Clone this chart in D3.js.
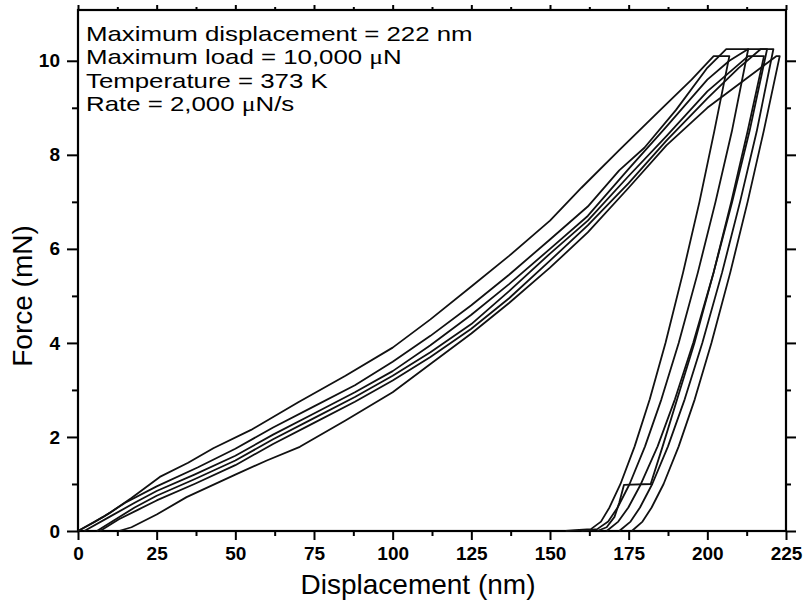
<!DOCTYPE html>
<html>
<head>
<meta charset="utf-8">
<script src="https://cdn.jsdelivr.net/npm/d3@7"></script>
<style>
  body { margin: 0; background: #fff; }
  svg { display: block; font-family: "Liberation Sans", Arial, sans-serif; }
</style>
</head>
<body>
<div id="chart"></div>
<script>
// load-displacement curves, [displacement nm, force mN]
const curve1 = [[0,0],[5,0.18],[10,0.38],[17,0.7],[26,1.15],[35,1.45],[43,1.76],[55,2.15],[70,2.74],[85,3.3],[100,3.9],[112,4.5],[125,5.2],[137,5.85],[150,6.6],[160,7.3],[172,8.1],[185,8.95],[195,9.6],[202,10.1],[207,10.1],
  [202.2,8.5],[197.5,7.0],[192.3,5.5],[186.7,4.0],[181.7,2.8],[176.9,1.8],[172.4,1.0],[168.9,0.5],[166.2,0.2],[163,0.04],[158,0.02],[155,0]];
const curve2 = [[0,0],[8,0.3],[15,0.6],[25,0.95],[38,1.35],[50,1.75],[62,2.2],[75,2.65],[88,3.1],[100,3.6],[112,4.15],[125,4.8],[137,5.45],[150,6.2],[162,6.9],[172,7.67],[180,8.15],[190,8.95],[200,9.85],[206,10.25],[213,10.25],
  [207.8,8.5],[202.6,7.0],[197,5.5],[190.9,4.0],[185.4,2.8],[180.2,1.8],[175.3,1.0],[171.5,0.5],[168.5,0.2],[165,0.04],[160,0]];
const curve3 = [[2,0],[10,0.3],[18,0.6],[25,0.85],[37,1.2],[50,1.6],[62,2.05],[75,2.5],[88,2.95],[100,3.4],[112,3.95],[125,4.6],[137,5.25],[150,6.0],[162,6.7],[175,7.7],[187,8.6],[200,9.6],[207,10.0],[213,10.25],[219,10.25],
  [213.4,8.5],[207.9,7.0],[202,5.5],[195.5,4.0],[189.7,2.8],[184.2,1.8],[178.9,1.0],[174.9,0.5],[171.7,0.2],[168,0]];
const curve4 = [[6,0],[12,0.25],[18,0.5],[25,0.75],[37,1.1],[50,1.5],[62,1.95],[75,2.4],[88,2.85],[100,3.3],[112,3.8],[125,4.4],[137,5.1],[150,5.9],[162,6.6],[175,7.55],[187,8.4],[200,9.35],[213,10.1],[218,10.1],
  [212.8,8.5],[207.6,7.0],[202,5.5],[195.9,4.0],[190.4,2.8],[185.8,1.8],[182,1.0],[173.5,0.98],[172,0.6],[170.5,0.3],[168,0.08],[165,0]];
const curve5 = [[7,0],[13,0.25],[19,0.45],[25,0.65],[37,1.0],[50,1.4],[62,1.85],[75,2.3],[88,2.75],[100,3.2],[112,3.7],[125,4.3],[137,4.95],[150,5.75],[162,6.5],[175,7.4],[187,8.3],[200,9.2],[210,9.85],[217,10.25],[221,10.25],
  [215.7,8.5],[210.4,7.0],[204.7,5.5],[198.4,4.0],[192.8,2.8],[187.5,1.8],[182.5,1.0],[178.6,0.5],[175.6,0.2],[172,0]];
const curve6 = [[13,0],[17,0.08],[25,0.35],[34.5,0.72],[50,1.2],[60,1.5],[70.5,1.79],[85,2.35],[100,2.95],[112,3.55],[125,4.2],[137,4.85],[150,5.6],[162,6.35],[175,7.3],[187,8.2],[200,9.0],[212,9.6],[222,10.1],[223,10.1],
  [217.9,8.5],[212.8,7.0],[207.3,5.5],[201.3,4.0],[196,2.8],[190.9,1.8],[186.1,1.0],[182.3,0.5],[179.4,0.2],[176,0]];
const curves = [curve1, curve2, curve3, curve4, curve5, curve6];

const xTicks = [0, 25, 50, 75, 100, 125, 150, 175, 200, 225];
const yTicks = [0, 2, 4, 6, 8, 10];
const notes = [
  ["Maximum displacement = 222 nm"],
  ["Maximum load = 10,000 ", "\u03bc", "N"],
  ["Temperature = 373 K"],
  ["Rate = 2,000 ", "\u03bc", "N/s"],
];

const chartSize = {
  width: 803,
  height: 603,
  margin: { top: 10, right: 17, bottom: 72, left: 78 },
};

const x = d3.scaleLinear()
  .domain([0, 225])
  .range([chartSize.margin.left, chartSize.width - chartSize.margin.right]);

const y = d3.scaleLinear()
  .domain([0, 11.08])
  .range([chartSize.height - chartSize.margin.bottom, chartSize.margin.top]);

const svg = d3.select("#chart")
  .append("svg")
  .attr("width", chartSize.width)
  .attr("height", chartSize.height);

const x0 = chartSize.margin.left, x1 = chartSize.width - chartSize.margin.right;
const y0 = chartSize.height - chartSize.margin.bottom, y1 = chartSize.margin.top;

// minor ticks every half step
const xMinor = d3.range(12.5, 225, 25);
const yMinor = d3.range(1, 11, 2);

function styleAxis(g) {
  g.select(".domain").remove();
  g.selectAll("line").attr("stroke", "#000").attr("stroke-width", 2);
}

function styleLabels(g) {
  g.selectAll("text")
    .attr("font-size", 19).attr("font-weight", "bold")
    .attr("font-family", "Liberation Sans, Arial, sans-serif").attr("fill", "#000");
}

// bottom
svg.append("g")
  .attr("transform", `translate(0,${y0})`)
  .call(d3.axisBottom(x).tickValues(xTicks).tickSize(9).tickPadding(7))
  .call(styleAxis)
  .call(styleLabels);
svg.append("g")
  .attr("transform", `translate(0,${y0})`)
  .call(d3.axisBottom(x).tickValues(xMinor).tickSize(5).tickFormat(""))
  .call(styleAxis);

// top
svg.append("g")
  .attr("transform", `translate(0,${y1})`)
  .call(d3.axisTop(x).tickValues(xTicks).tickSize(5).tickFormat(""))
  .call(styleAxis);
svg.append("g")
  .attr("transform", `translate(0,${y1})`)
  .call(d3.axisTop(x).tickValues(xMinor).tickSize(3).tickFormat(""))
  .call(styleAxis);

// left
svg.append("g")
  .attr("transform", `translate(${x0},0)`)
  .call(d3.axisLeft(y).tickValues(yTicks).tickSize(11).tickPadding(7))
  .call(styleAxis)
  .call(styleLabels);
svg.append("g")
  .attr("transform", `translate(${x0},0)`)
  .call(d3.axisLeft(y).tickValues(yMinor).tickSize(6).tickFormat(""))
  .call(styleAxis);

// right
svg.append("g")
  .attr("transform", `translate(${x1},0)`)
  .call(d3.axisRight(y).tickValues(yTicks).tickSize(10).tickFormat(""))
  .call(styleAxis);
svg.append("g")
  .attr("transform", `translate(${x1},0)`)
  .call(d3.axisRight(y).tickValues(yMinor).tickSize(5).tickFormat(""))
  .call(styleAxis);

// frame
svg.append("rect")
  .attr("x", x0).attr("y", y1)
  .attr("width", x1 - x0).attr("height", y0 - y1)
  .attr("fill", "none").attr("stroke", "#000").attr("stroke-width", 2.2);

const line = d3.line()
  .x(d => x(d[0]))
  .y(d => y(d[1]));

svg.append("g")
  .selectAll("path")
  .data(curves)
  .join("path")
  .attr("d", line)
  .attr("fill", "none")
  .attr("stroke", "#111")
  .attr("stroke-width", 1.8)
  .attr("stroke-linejoin", "round");

// annotation, drawn a bit wide like the scanned figure
const noteText = svg.append("g")
  .attr("transform", `translate(${x0 + 8},0) scale(1.23,1)`)
  .selectAll("text")
  .data(notes)
  .join("text")
  .attr("x", 0)
  .attr("y", (d, i) => 41 + i * 23.5)
  .attr("font-size", 21)
  .attr("fill", "#000");

noteText.selectAll("tspan")
  .data(d => d)
  .join("tspan")
  .attr("font-family", t => t === "\u03bc" ? "Liberation Serif, serif" : null)
  .text(t => t);

// axis titles
svg.append("text")
  .attr("x", 418)
  .attr("y", 594)
  .attr("text-anchor", "middle")
  .attr("font-size", 28)
  .text("Displacement (nm)");

svg.append("text")
  .attr("transform", "translate(32,296) rotate(-90)")
  .attr("text-anchor", "middle")
  .attr("font-size", 28)
  .text("Force (mN)");
</script>
</body>
</html>
